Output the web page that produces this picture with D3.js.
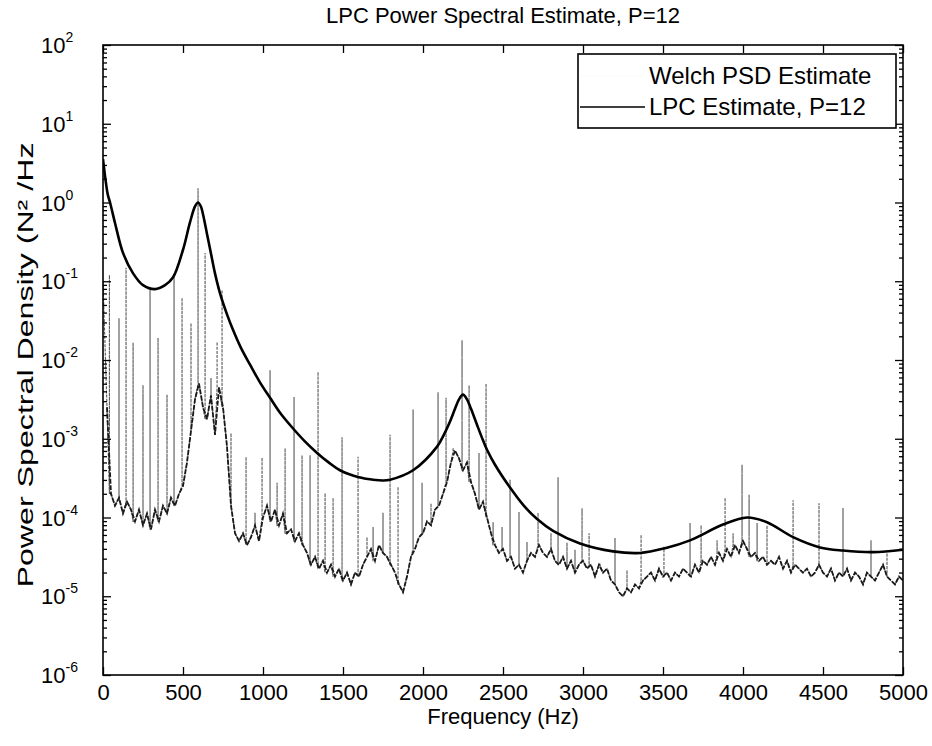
<!DOCTYPE html>
<html><head><meta charset="utf-8">
<script src="https://cdn.jsdelivr.net/npm/d3@7/dist/d3.min.js"></script>
<style>
body{margin:0;background:#fff}
text{font-family:"Liberation Sans", Arial, Helvetica, sans-serif; fill:#000}
</style>
</head><body>
<svg id="chart" width="932" height="746"></svg>
<script>
// ---------------- data ----------------
const titleText = "LPC Power Spectral Estimate, P=12";
const xLabelText = "Frequency (Hz)";
const yLabelText = "Power Spectral Density (N\u00B2 /Hz";
const legendLabels = ["Welch PSD Estimate", "LPC Estimate, P=12"];
const xTicks = [0, 500, 1000, 1500, 2000, 2500, 3000, 3500, 4000, 4500, 5000];
const yTickExponents = [-6, -5, -4, -3, -2, -1, 0, 1, 2];

// LPC estimate (log10 of PSD) at read-off frequencies
const lpcFreq = [0, 15, 30, 44, 75, 125, 188, 250, 325, 388, 438, 500, 544, 575, 594, 612, 625, 650, 675, 700, 731, 775, 813, 863, 919, 980, 1044, 1110, 1188, 1260, 1338, 1410, 1481, 1600, 1688, 1750, 1794, 1938, 2088, 2130, 2169, 2200, 2225, 2250, 2275, 2300, 2337, 2375, 2400, 2450, 2544, 2630, 2713, 2813, 2981, 3188, 3356, 3513, 3669, 3875, 4025, 4150, 4313, 4481, 4625, 4813, 5000];
const lpcLog10 = [0.55, 0.3, 0.1, 0.0, -0.26, -0.64, -0.9, -1.05, -1.10, -1.05, -0.95, -0.6, -0.25, -0.05, 0.0, -0.05, -0.15, -0.4, -0.65, -0.9, -1.15, -1.42, -1.62, -1.85, -2.06, -2.28, -2.48, -2.68, -2.87, -3.03, -3.18, -3.30, -3.40, -3.49, -3.52, -3.53, -3.52, -3.40, -3.10, -2.95, -2.78, -2.62, -2.5, -2.44, -2.5, -2.62, -2.82, -3.02, -3.14, -3.33, -3.62, -3.85, -4.02, -4.17, -4.33, -4.43, -4.45, -4.39, -4.29, -4.09, -4.0, -4.06, -4.25, -4.38, -4.42, -4.44, -4.41];

// Welch PSD background level (log10), one value every 25 Hz from 0 to 5000 Hz
const welchStepHz = 25;
const welchLog10 = [
  -1.0, -2.6, -3.7, -3.85, -3.75, -3.95, -3.8, -3.9,
  -4.05, -3.9, -4.1, -3.95, -4.15, -3.9, -4.05, -3.85,
  -3.95, -3.75, -3.85, -3.7, -3.6, -3.3, -2.9, -2.5,
  -2.3, -2.6, -2.75, -2.45, -2.95, -2.35, -2.6, -3.1,
  -3.85, -4.2, -4.3, -4.2, -4.35, -4.25, -4.1, -4.3,
  -4.0, -3.85, -4.05, -3.9, -4.1, -3.95, -4.2, -4.15,
  -4.3, -4.2, -4.35, -4.45, -4.6, -4.5, -4.65, -4.55,
  -4.7, -4.6, -4.75, -4.65, -4.8, -4.7, -4.85, -4.7,
  -4.75, -4.6, -4.5, -4.4, -4.55, -4.35, -4.45, -4.5,
  -4.6, -4.7, -4.85, -4.95, -4.75, -4.5, -4.4, -4.25,
  -4.2, -4.05, -4.1, -3.9, -3.85, -3.7, -3.55, -3.3,
  -3.15, -3.25, -3.4, -3.3, -3.55, -3.7, -3.9, -3.8,
  -4.0, -4.2, -4.35, -4.45, -4.4, -4.55, -4.5, -4.65,
  -4.6, -4.7, -4.55, -4.45, -4.5, -4.35, -4.45, -4.5,
  -4.4, -4.55, -4.6, -4.5, -4.65, -4.55, -4.7, -4.6,
  -4.55, -4.65, -4.6, -4.75, -4.6, -4.7, -4.65, -4.8,
  -4.85, -4.95, -5.0, -4.9, -4.95, -4.85, -4.9, -4.8,
  -4.75, -4.7, -4.8, -4.65, -4.75, -4.7, -4.8, -4.7,
  -4.75, -4.65, -4.7, -4.75, -4.6, -4.7, -4.55, -4.6,
  -4.5, -4.6, -4.45, -4.55, -4.4, -4.5, -4.35, -4.45,
  -4.3, -4.4, -4.5, -4.45, -4.55, -4.5, -4.6, -4.55,
  -4.6, -4.5, -4.65, -4.55, -4.7, -4.6, -4.65, -4.7,
  -4.65, -4.75, -4.7, -4.6, -4.7, -4.75, -4.65, -4.8,
  -4.7, -4.75, -4.65, -4.8, -4.7, -4.75, -4.85, -4.7,
  -4.75, -4.8, -4.7, -4.6, -4.75, -4.8, -4.85, -4.75,
  -4.8
];

// Welch PSD narrow spikes: frequency (Hz) and peak level (log10)
const spikeFreq = [40, 100, 144, 188, 250, 294, 344, 400, 444, 494, 550, 594, 638, 675, 713, 744, 800, 894, 950, 994, 1044, 1088, 1138, 1194, 1244, 1294, 1344, 1388, 1438, 1494, 1594, 1650, 1688, 1750, 1794, 1844, 1938, 1994, 2050, 2094, 2144, 2188, 2244, 2288, 2350, 2394, 2438, 2494, 2544, 2600, 2650, 2719, 2800, 2844, 2900, 2950, 2994, 3038, 3106, 3200, 3275, 3363, 3506, 3669, 3738, 3838, 3888, 3938, 3994, 4038, 4088, 4150, 4313, 4475, 4625, 4800, 4900];
const spikeLog10 = [-0.92, -1.47, -0.83, -1.78, -2.32, -1.11, -1.72, -2.44, -0.95, -1.21, -1.53, 0.18, -0.64, -2.23, -1.77, -1.11, -2.93, -3.23, -3.94, -3.24, -2.13, -3.56, -3.12, -2.47, -3.21, -3.21, -2.15, -3.69, -3.75, -2.98, -3.23, -4.25, -4.12, -3.94, -2.95, -3.61, -2.63, -3.56, -3.82, -2.41, -2.48, -3.12, -1.75, -2.32, -3.18, -2.30, -4.06, -4.12, -3.52, -3.93, -4.31, -3.94, -4.20, -3.49, -4.32, -4.41, -3.88, -4.20, -4.58, -4.26, -4.67, -4.22, -4.37, -4.07, -4.10, -4.29, -3.75, -4.20, -3.33, -3.71, -4.07, -4.10, -3.78, -3.82, -3.88, -4.29, -4.45];

// ---------------- layout ----------------
const W = 932, H = 746;
const plot = {left: 103, right: 903, top: 45, bottom: 675};

const svg = d3.select("#chart");
const x = d3.scaleLinear().domain([0, 5000]).range([plot.left, plot.right]);
const y = d3.scaleLog().domain([1e-6, 1e2]).range([plot.bottom, plot.top]);

svg.append("rect").attr("x", 0).attr("y", 0).attr("width", W).attr("height", H).attr("fill", "#fff");

svg.append("clipPath").attr("id", "clip").append("rect")
  .attr("x", plot.left).attr("y", plot.top)
  .attr("width", plot.right - plot.left).attr("height", plot.bottom - plot.top);

// ---------------- Welch series ----------------
const welchBase = welchLog10.map((v, i) => [i * welchStepHz, v]);
const welchPts = [];
let si = 0;
welchBase.forEach((b, i) => {
  welchPts.push(b);
  const nextF = i + 1 < welchBase.length ? welchBase[i + 1][0] : Infinity;
  while (si < spikeFreq.length && spikeFreq[si] >= b[0] && spikeFreq[si] < nextF) {
    const f = spikeFreq[si];
    const near = (f - b[0]) < welchStepHz / 2 || i + 1 >= welchBase.length ? b[1] : welchBase[i + 1][1];
    welchPts.push([f, near], [f, spikeLog10[si]], [f, near]);
    si++;
  }
});

const welchLine = d3.line()
  .x(d => x(d[0]))
  .y(d => y(Math.pow(10, d[1])));

const gData = svg.append("g").attr("clip-path", "url(#clip)");
// full Welch trace (spikes appear as thin dotted grey lines)
gData.append("path")
  .datum(welchPts)
  .attr("d", welchLine)
  .attr("fill", "none")
  .attr("stroke", "#555")
  .attr("stroke-width", 1.1)
  .attr("stroke-dasharray", "3,1.2");
// dense floor of the Welch trace drawn heavier, as in the scan
gData.append("path")
  .datum(welchBase.slice(1))
  .attr("d", welchLine)
  .attr("fill", "none")
  .attr("stroke", "#1a1a1a")
  .attr("stroke-width", 1.8)
  .attr("stroke-dasharray", "5,1.5");

// ---------------- LPC series ----------------
const lpcPts = lpcFreq.map((f, i) => [f, lpcLog10[i]]);
const lpcLine = d3.line()
  .x(d => x(d[0]))
  .y(d => y(Math.pow(10, d[1])))
  .curve(d3.curveCatmullRom.alpha(0.5));
gData.append("path")
  .datum(lpcPts)
  .attr("d", lpcLine)
  .attr("fill", "none")
  .attr("stroke", "#000")
  .attr("stroke-width", 2.6)
  .attr("stroke-linejoin", "round");

// ---------------- axes ----------------
const majorY = yTickExponents.map(e => Math.pow(10, e));
const minorY = [];
yTickExponents.slice(0, -1).forEach(e => { for (let m = 2; m <= 9; m++) minorY.push(m * Math.pow(10, e)); });

function styleAxis(g) {
  g.select(".domain").remove();
  g.selectAll(".tick line").attr("stroke", "#000").attr("stroke-width", 1.3);
}

// bottom axis with labels
const gBottom = svg.append("g").attr("transform", `translate(0,${plot.bottom})`)
  .call(d3.axisBottom(x).tickValues(xTicks).tickSizeInner(-8).tickSizeOuter(0).tickPadding(9).tickFormat(d3.format("d")));
styleAxis(gBottom);
gBottom.selectAll(".tick text").attr("font-size", 22).attr("font-family", "Liberation Sans, Arial, sans-serif").attr("fill", "#000");

// top axis (ticks only)
const gTop = svg.append("g").attr("transform", `translate(0,${plot.top})`)
  .call(d3.axisTop(x).tickValues(xTicks).tickSizeInner(-8).tickSizeOuter(0).tickFormat(""));
styleAxis(gTop);

// left axis
const gLeft = svg.append("g").attr("transform", `translate(${plot.left},0)`)
  .call(d3.axisLeft(y).tickValues(majorY).tickSizeInner(-8).tickSizeOuter(0).tickFormat(""));
styleAxis(gLeft);
const gLeftMinor = svg.append("g").attr("transform", `translate(${plot.left},0)`)
  .call(d3.axisLeft(y).tickValues(minorY).tickSizeInner(-4).tickSizeOuter(0).tickFormat(""));
styleAxis(gLeftMinor);

// right axis
const gRight = svg.append("g").attr("transform", `translate(${plot.right},0)`)
  .call(d3.axisRight(y).tickValues(majorY).tickSizeInner(-8).tickSizeOuter(0).tickFormat(""));
styleAxis(gRight);
const gRightMinor = svg.append("g").attr("transform", `translate(${plot.right},0)`)
  .call(d3.axisRight(y).tickValues(minorY).tickSizeInner(-4).tickSizeOuter(0).tickFormat(""));
styleAxis(gRightMinor);

// y tick labels 10^n
const yLab = svg.append("g");
yTickExponents.forEach(e => {
  const t = yLab.append("text")
    .attr("x", plot.left - 62)
    .attr("y", y(Math.pow(10, e)) + 8)
    .attr("text-anchor", "start")
    .attr("font-size", 22);
  t.append("tspan").text("10");
  t.append("tspan").attr("font-size", 14).attr("dy", -11).text(String(e));
});

// frame
svg.append("rect")
  .attr("x", plot.left).attr("y", plot.top)
  .attr("width", plot.right - plot.left).attr("height", plot.bottom - plot.top)
  .attr("fill", "none").attr("stroke", "#000").attr("stroke-width", 1.6);

// ---------------- titles ----------------
svg.append("text")
  .attr("x", (plot.left + plot.right) / 2).attr("y", 23)
  .attr("text-anchor", "middle").attr("font-size", 22)
  .text(titleText);

svg.append("text")
  .attr("x", (plot.left + plot.right) / 2).attr("y", 724)
  .attr("text-anchor", "middle").attr("font-size", 22)
  .text(xLabelText);

svg.append("text")
  .attr("transform", `translate(33,${(plot.top + plot.bottom) / 2 + 5}) rotate(-90)`)
  .attr("text-anchor", "middle").attr("font-size", 22)
  .attr("textLength", 445).attr("lengthAdjust", "spacingAndGlyphs")
  .text(yLabelText);

// ---------------- legend ----------------
const leg = {x: 578, y: 54, w: 318, h: 74};
svg.append("rect")
  .attr("x", leg.x).attr("y", leg.y).attr("width", leg.w).attr("height", leg.h)
  .attr("fill", "#fff").attr("stroke", "#000").attr("stroke-width", 1.6);
const legendStyles = [
  {stroke: "#fafafa", width: 1},
  {stroke: "#000", width: 1.6}
];
legendLabels.forEach((lab, i) => {
  const cy = leg.y + 22 + i * 31;
  svg.append("line")
    .attr("x1", leg.x + 2).attr("x2", leg.x + 67)
    .attr("y1", cy).attr("y2", cy)
    .attr("stroke", legendStyles[i].stroke).attr("stroke-width", legendStyles[i].width);
  svg.append("text")
    .attr("x", leg.x + 71).attr("y", cy + 8)
    .attr("font-size", 24)
    .text(lab);
});
</script>
</body></html>
